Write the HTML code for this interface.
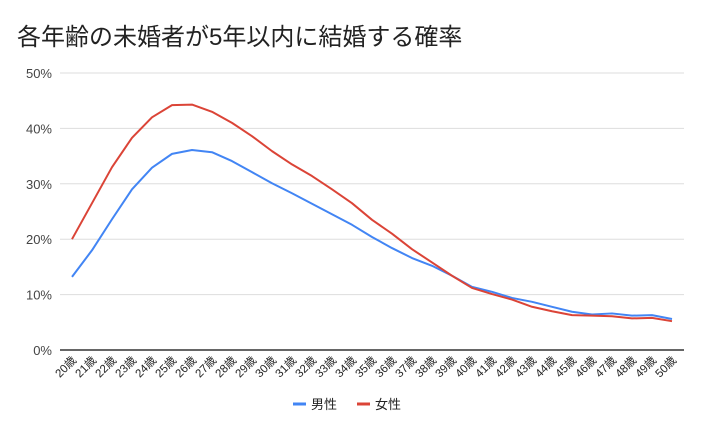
<!DOCTYPE html>
<html><head><meta charset="utf-8"><style>
body{margin:0;background:#fff;}
svg{display:block;font-family:"Liberation Sans","Noto Sans CJK JP",sans-serif;}
</style></head><body>
<svg id="c" width="704" height="435">
<rect width="704" height="435" fill="#fff"/>
<text x="17" y="45" font-size="24" fill="#222">各年齢の未婚者が5年以内に結婚する確率</text>
<g id="grid"></g><g id="xl"></g><g id="series"></g>
<g>
<g><line x1="293" y1="404" x2="306" y2="404" stroke="#4285f4" stroke-width="3"/><text x="311" y="409" font-size="13" fill="#222">男性</text></g>
<g><line x1="357" y1="404" x2="370" y2="404" stroke="#db4437" stroke-width="3"/><text x="375" y="409" font-size="13" fill="#222">女性</text></g>
</g>
</svg>
<script>
const categories=["20歳","21歳","22歳","23歳","24歳","25歳","26歳","27歳","28歳","29歳","30歳","31歳","32歳","33歳","34歳","35歳","36歳","37歳","38歳","39歳","40歳","41歳","42歳","43歳","44歳","45歳","46歳","47歳","48歳","49歳","50歳"];
const male=[13.2,18,23.6,29,32.9,35.4,36.1,35.7,34.1,32.1,30.1,28.3,26.4,24.5,22.6,20.4,18.4,16.6,15.2,13.4,11.4,10.5,9.4,8.7,7.8,6.9,6.4,6.6,6.2,6.3,5.6];
const female=[20,26.5,33,38.3,42,44.2,44.3,43,41,38.6,35.9,33.5,31.4,29,26.5,23.5,21,18.2,15.8,13.4,11.2,10.1,9.1,7.8,7,6.3,6.2,6.1,5.7,5.8,5.2];
const yTicks=[0,10,20,30,40,50];
const yTickLabels=["0%","10%","20%","30%","40%","50%"];
const NS="http://www.w3.org/2000/svg";
const x0=72,x1=672,yb=350,yt=73;
const xs=i=>x0+(x1-x0)*i/(categories.length-1);
const ys=v=>yb-(yb-yt)*v/50;
function mk(t,a,p){const e=document.createElementNS(NS,t);for(const k in a)e.setAttribute(k,a[k]);p.appendChild(e);return e;}
const g=document.getElementById('grid');
yTicks.forEach((v,i)=>{
 const l=mk('line',{x1:60,x2:684,y1:ys(v),y2:ys(v),stroke:v===0?'#333':'#ddd','stroke-width':v===0?1.5:1},g);
 
 
 const t=mk('text',{x:52,y:ys(v)+5,'text-anchor':'end','font-size':13,fill:'#444'},g);
 t.textContent=yTickLabels[i];
 
 
});
const xl=document.getElementById('xl');
categories.forEach((c,i)=>{
 const x=xs(i)+5,y=361;
 const t=mk('text',{x:x,y:y,'text-anchor':'end','font-size':11.5,fill:'#222',transform:`rotate(-45 ${x} ${y})`},xl);
 t.textContent=c;
 
 
});
const s=document.getElementById('series');
[[male,'#4285f4','male-line'],[female,'#db4437','female-line']].forEach(([d,col,n])=>{
 const p=mk('polyline',{points:d.map((v,i)=>xs(i)+','+ys(v)).join(' '),fill:'none',stroke:col,'stroke-width':2,'stroke-linejoin':'round'},s);
 
 
});
</script>
</body></html>
